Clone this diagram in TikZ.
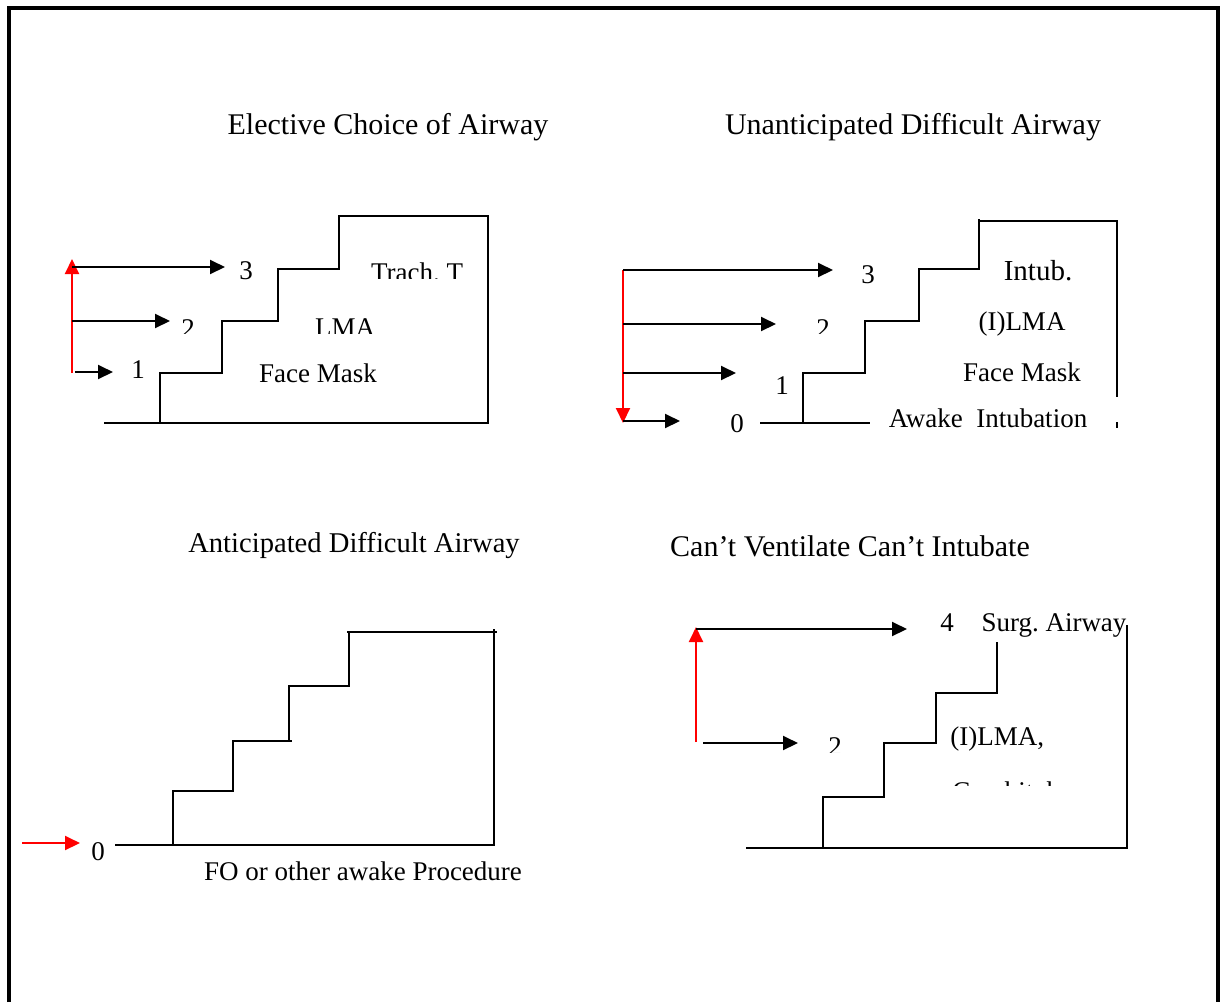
\documentclass[tikz,border=0pt]{standalone}
\usepackage{fontspec}
\setmainfont{Liberation Serif}
\usetikzlibrary{arrows.meta}
\frenchspacing

\begin{document}
\begin{tikzpicture}[x=0.5pt, y=-0.5pt,
    stair/.style={line width=1pt},
    arr/.style={line width=1pt, -{Triangle[length=7.5pt,width=7pt]}},
    redarr/.style={arr, red},
    lbl/.style={anchor=base, inner sep=0pt, font=\fontsize{13.5}{16}\selectfont},
    num/.style={anchor=base, inner sep=0pt, font=\fontsize{13.5}{16}\selectfont},
    ttl/.style={anchor=base, inner sep=0pt, font=\fontsize{15}{18}\selectfont}]
  \useasboundingbox (0,0) rectangle (1220,1002);
  % frame, open at the bottom
  \draw[line width=2pt] (9,1002) -- (9,8) -- (1218,8) -- (1218,1002);

  % elective choice of airway
  \node[ttl] (elTitle) at (388,134) {Elective Choice of Airway};
  \draw[stair] (104,423) -- (488,423) -- (488,216) -- (339,216) -- (339,269)
    -- (278,269) -- (278,321) -- (222,321) -- (222,373) -- (160,373) -- (160,423);
  \coordinate (elRedBot) at (72,373);
  \coordinate (elRedTop) at (72,259);
  \draw[redarr] (elRedBot) -- (elRedTop);
  % level / row / start / end
  \foreach \n/\y/\xs/\xe in {3/267/72/225, 2/321/72/170, 1/372/75/113} {
    \coordinate (elS\n) at (\xs,\y);
    \coordinate (elE\n) at (\xe,\y);
    \draw[arr] (elS\n) -- (elE\n);
  }
  \node[num] (elN3) at (246,279) {3};
  \node[num] (elN1) at (138,378) {1};
  \begin{scope}
    \clip (150,300) rectangle (480,333);
    \node[num] (elN2) at (188,337) {2};
    \node[lbl] (elLma) at (345,336) {LMA};
  \end{scope}
  \begin{scope}
    \clip (345,240) rectangle (480,278);
    \node[lbl] (elTrach) at (417,281) {Trach. T};
  \end{scope}
  \node[lbl] (elMask) at (318,382) {Face Mask};

  % unanticipated difficult airway
  \node[ttl] (unTitle) at (913,134) {Unanticipated Difficult Airway};
  \draw[stair] (760,423) -- (870,423);
  \draw[stair] (803,423) -- (803,373) -- (865,373) -- (865,321) -- (919,321)
    -- (919,269) -- (979,269) -- (979,219);
  \draw[stair] (979,221) -- (1117,221) -- (1117,397);
  \draw[stair] (1117,422) -- (1117,428);
  \coordinate (unRedTop) at (623,270);
  \coordinate (unRedBot) at (623,423);
  \draw[redarr] (unRedTop) -- (unRedBot);
  \foreach \n/\y/\xe in {3/270/833, 2/324/776, 1/373/736, 0/421/680} {
    \coordinate (unS\n) at (623,\y);
    \coordinate (unE\n) at (\xe,\y);
    \draw[arr] (unS\n) -- (unE\n);
  }
  \node[num] (unN3) at (868,283) {3};
  \node[num] (unN1) at (782,394) {1};
  \node[num] (unN0) at (737,432) {0};
  \begin{scope}
    \clip (800,300) rectangle (850,333);
    \node[num] (unN2) at (823,337) {2};
  \end{scope}
  \node[lbl, font=\fontsize{14.5}{17}\selectfont] (unIntub) at (1038,280) {Intub.};
  \node[lbl] (unLma) at (1022,330) {(I)LMA};
  \node[lbl] (unMask) at (1022,381) {Face Mask};
  \node[lbl] (unAwake) at (988,427) {Awake\ \ Intubation};

  % anticipated difficult airway
  \node[ttl, font=\fontsize{14.3}{17}\selectfont] (anTitle) at (354,552) {Anticipated Difficult Airway};
  \draw[stair] (115,845) -- (494,845);
  \draw[stair] (173,845) -- (173,791) -- (233,791) -- (233,741) -- (292,741);
  \draw[stair] (289,741) -- (289,686) -- (349,686) -- (349,633);
  \draw[stair] (347,632) -- (497,632);
  \draw[stair] (494,629) -- (494,846);
  \coordinate (anRedS) at (22,843);
  \coordinate (anRedE) at (80,843);
  \draw[redarr] (anRedS) -- (anRedE);
  \node[num] (anN0) at (98,860) {0};
  \node[lbl] (anFo) at (363,880) {FO or other awake Procedure};

  % can't ventilate can't intubate
  \node[ttl] (cvTitle) at (850,556) {Can’t Ventilate Can’t Intubate};
  \draw[stair] (746,848) -- (1128,848);
  \draw[stair] (823,848) -- (823,797) -- (884,797) -- (884,743) -- (936,743)
    -- (936,693) -- (997,693) -- (997,642);
  \draw[stair] (1127,625) -- (1127,848);
  \coordinate (cvRedBot) at (696,742);
  \coordinate (cvRedTop) at (696,627);
  \draw[redarr] (cvRedBot) -- (cvRedTop);
  \coordinate (cvS4) at (696,629);
  \coordinate (cvE4) at (907,629);
  \draw[arr] (cvS4) -- (cvE4);
  \coordinate (cvS2) at (703,743);
  \coordinate (cvE2) at (798,743);
  \draw[arr] (cvS2) -- (cvE2);
  \node[num] (cvN4) at (947,631) {4};
  \node[lbl] (cvSurg) at (1054,631) {Surg. Airway};
  \begin{scope}
    \clip (810,725) rectangle (860,752);
    \node[num] (cvN2) at (835,755) {2};
  \end{scope}
  \node[lbl, anchor=base west] (cvLma) at (950,745) {(I)LMA,};
  \begin{scope}
    \clip (940,770) rectangle (1100,785);
    \node[lbl, anchor=base west] (cvCombi) at (952,800) {Combitube};
  \end{scope}
\end{tikzpicture}
\end{document}
